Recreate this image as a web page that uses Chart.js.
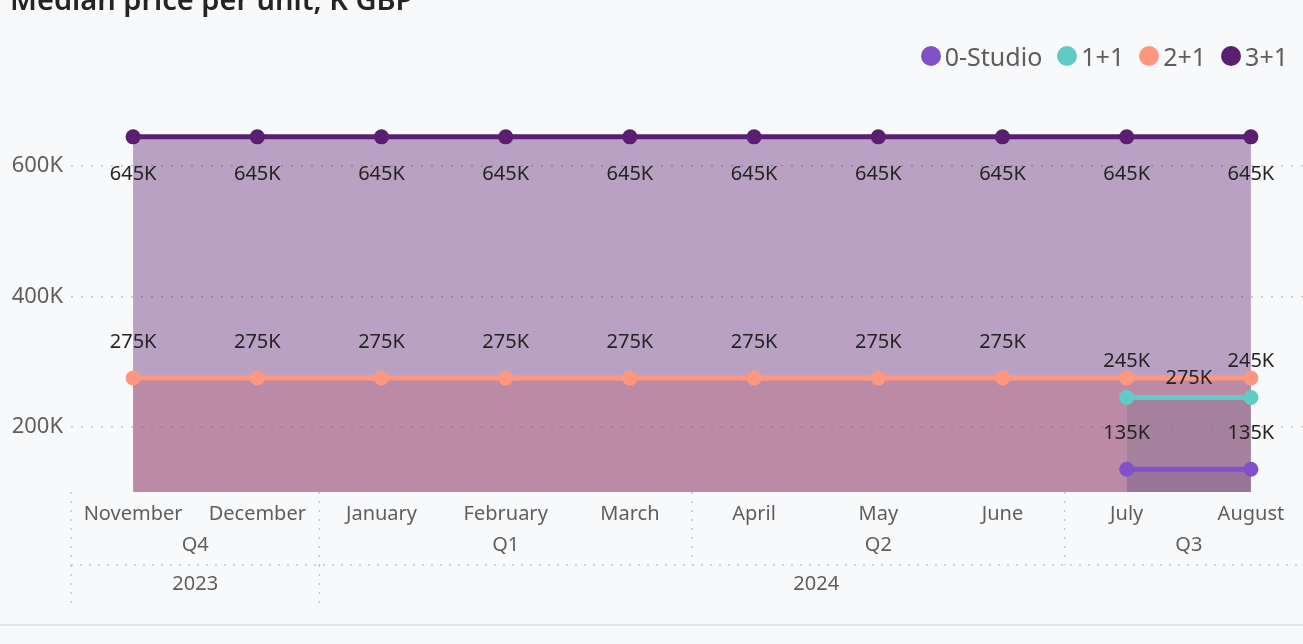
<!DOCTYPE html>
<html>
<head>
<meta charset="utf-8">
<script src="https://cdn.jsdelivr.net/npm/chart.js@4.4.1/dist/chart.umd.min.js"></script>
<style>
   html, body { margin: 0; padding: 0; background: #F8F9FB; overflow: hidden; width: 1303px; height: 644px; }
   #title { position: absolute; left: 10px; top: -14px; font: 600 29px/26px "Noto Sans"; color: #252423; white-space: nowrap; }
   #legend { position: absolute; right: 15px; top: 40px; display: flex; align-items: center; font: 25px/32px "Noto Sans"; color: #605E5C; }
   #legend .item { display: flex; align-items: center; margin-left: 15px; }
   #legend .dot { width: 20px; height: 20px; border-radius: 50%; margin-right: 4px; }
   #wrap { position: absolute; left: 0; top: 0; width: 1330px; height: 644px; }
   #bottomLine { position: absolute; left: 0; top: 624px; width: 1303px; height: 2px; background: #E4E4E4; }
</style>
</head>
<body>
<div id="wrap"><canvas id="myChart" width="1330" height="644"></canvas></div>
<div id="title">Median price per unit, K GBP</div>
<div id="legend"></div>
<div id="bottomLine"></div>
<script>
// 데이터
const months = ['November', 'December', 'January', 'February', 'March', 'April', 'May', 'June', 'July', 'August'];
const quarters = ['Q4', 'Q4', 'Q1', 'Q1', 'Q1', 'Q2', 'Q2', 'Q2', 'Q3', 'Q3'];
const years = ['2023', '2023', '2024', '2024', '2024', '2024', '2024', '2024', '2024', '2024'];

const studio = [null, null, null, null, null, null, null, null, 135000, 135000];
const oneBed = [null, null, null, null, null, null, null, null, 245000, 245000];
const twoBed = [275000, 275000, 275000, 275000, 275000, 275000, 275000, 275000, 275000, 275000];
const threeBed = [645000, 645000, 645000, 645000, 645000, 645000, 645000, 645000, 645000, 645000];

const yTicks = [200000, 400000, 600000];

// legend order
const seriesNames = ['0-Studio', '1+1', '2+1', '3+1'];
const seriesColors = ['#8250C8', '#5FCBC6', '#FF977E', '#5B1F72'];
const seriesData = [studio, oneBed, twoBed, threeBed];

function hexA(hex, a) {
   const n = parseInt(hex.slice(1), 16);
   return `rgba(${n >> 16}, ${(n >> 8) & 255}, ${n & 255}, ${a})`;
}
const fmtK = v => Math.round(v / 1000) + 'K';

// legend (html)
const legendEl = document.getElementById('legend');
seriesNames.forEach((name, i) => {
   const item = document.createElement('div');
   item.className = 'item';
   if (i === 0) item.style.marginLeft = '0';
   item.innerHTML = `<span class="dot" style="background:${seriesColors[i]}"></span><span>${name}</span>`;
   legendEl.appendChild(item);
});

// datasets: top series first so its fill ends up on top
const datasets = [3, 2, 1, 0].map(i => ({
   label: seriesNames[i],
   data: seriesData[i],
   borderColor: seriesColors[i],
   backgroundColor: hexA(seriesColors[i], 0.4),
   pointBackgroundColor: seriesColors[i],
   pointBorderWidth: 0,
   pointRadius: 7.5,
   pointHoverRadius: 7.5,
   borderWidth: 5,
   fill: 'start',
   tension: 0
}));

// data labels, with simple overlap handling
const pointLabels = {
   id: 'pointLabels',
   afterDatasetsDraw(chart) {
      const ctx = chart.ctx;
      ctx.save();
      ctx.font = '20px "Noto Sans"';
      ctx.fillStyle = '#252423';
      ctx.textAlign = 'center';
      ctx.textBaseline = 'middle';
      const placed = [];
      const hit = (x, y, w) => placed.some(r => Math.abs(r.x - x) < (r.w + w) / 2 && Math.abs(r.y - y) < 20);
      [0, 2, 3, 1].forEach(di => {
         const meta = chart.getDatasetMeta(di);
         const data = chart.data.datasets[di].data;
         meta.data.forEach((pt, i) => {
            if (data[i] == null) return;
            const text = fmtK(data[i]);
            const w = ctx.measureText(text).width;
            let x = pt.x, y = di === 0 ? pt.y + 37 : pt.y - 36;
            if (hit(x, y, w)) {
               const next = meta.data[i + 1];
               if (!next || data[i + 1] == null) return;
               x = (pt.x + next.x) / 2; y = pt.y;
               if (hit(x, y, w)) return;
            }
            placed.push({x, y, w});
            ctx.fillText(text, x, y);
         });
      });
      ctx.restore();
   }
};

// quarter / year rows under the month labels
const hierarchy = {
   id: 'hierarchy',
   afterDraw(chart) {
      const xs = chart.scales.x, ctx = chart.ctx;
      const bottom = chart.chartArea.bottom;
      const half = (xs.getPixelForValue(1) - xs.getPixelForValue(0)) / 2;
      ctx.save();
      ctx.strokeStyle = '#C8C6C4';
      ctx.lineWidth = 1.5;
      ctx.setLineDash([2, 7]);
      const line = (x1, y1, x2, y2) => { ctx.beginPath(); ctx.moveTo(x1, y1); ctx.lineTo(x2, y2); ctx.stroke(); };
      line(xs.left, bottom + 73, xs.right, bottom + 73);
      ctx.font = '20px "Noto Sans"';
      ctx.fillStyle = '#605E5C';
      ctx.textAlign = 'center';
      ctx.textBaseline = 'middle';
      const rows = [
         {keys: quarters, y: bottom + 53, top: bottom, end: bottom + 73},
         {keys: years, y: bottom + 92, top: bottom + 73, end: bottom + 113}
      ];
      rows.forEach(row => {
         let start = 0;
         for (let i = 1; i <= months.length; i++) {
            if (i === months.length || row.keys[i] !== row.keys[start]) {
               const l = xs.getPixelForValue(start) - half, r = xs.getPixelForValue(i - 1) + half;
               ctx.fillText(row.keys[start], (l + r) / 2, row.y);
               line(l, row.top, l, row.end);
               start = i;
            }
         }
      });
      ctx.restore();
   }
};

new Chart(document.getElementById('myChart').getContext('2d'), {
   type: 'line',
   data: { labels: months, datasets: datasets },
   plugins: [pointLabels, hierarchy],
   options: {
      responsive: false,
      animation: false,
      layout: { padding: { top: 101, right: 17, left: 0, bottom: 0 } },
      plugins: {
         legend: { display: false },
         tooltip: { enabled: false },
         filler: { drawTime: 'beforeDatasetsDraw' }
      },
      scales: {
         x: {
            offset: true,
            grid: { display: false },
            border: { display: false },
            ticks: { autoSkip: false, maxRotation: 0, padding: 2, color: '#605E5C', font: { family: 'Noto Sans', size: 20 } },
            afterFit: s => { s.height = 152; }
         },
         y: {
            min: 100000,
            max: 700000,
            afterBuildTicks: s => { s.ticks = yTicks.map(v => ({ value: v })); },
            afterFit: s => { s.width = 71; },
            border: { display: false, dash: [2, 8] },
            grid: { color: '#C8C6C4', lineWidth: 1.5, drawTicks: false },
            ticks: { padding: 8, color: '#605E5C', font: { family: 'Noto Sans', size: 22 }, callback: v => fmtK(v) }
         }
      }
   }
});
</script>
</body>
</html>
